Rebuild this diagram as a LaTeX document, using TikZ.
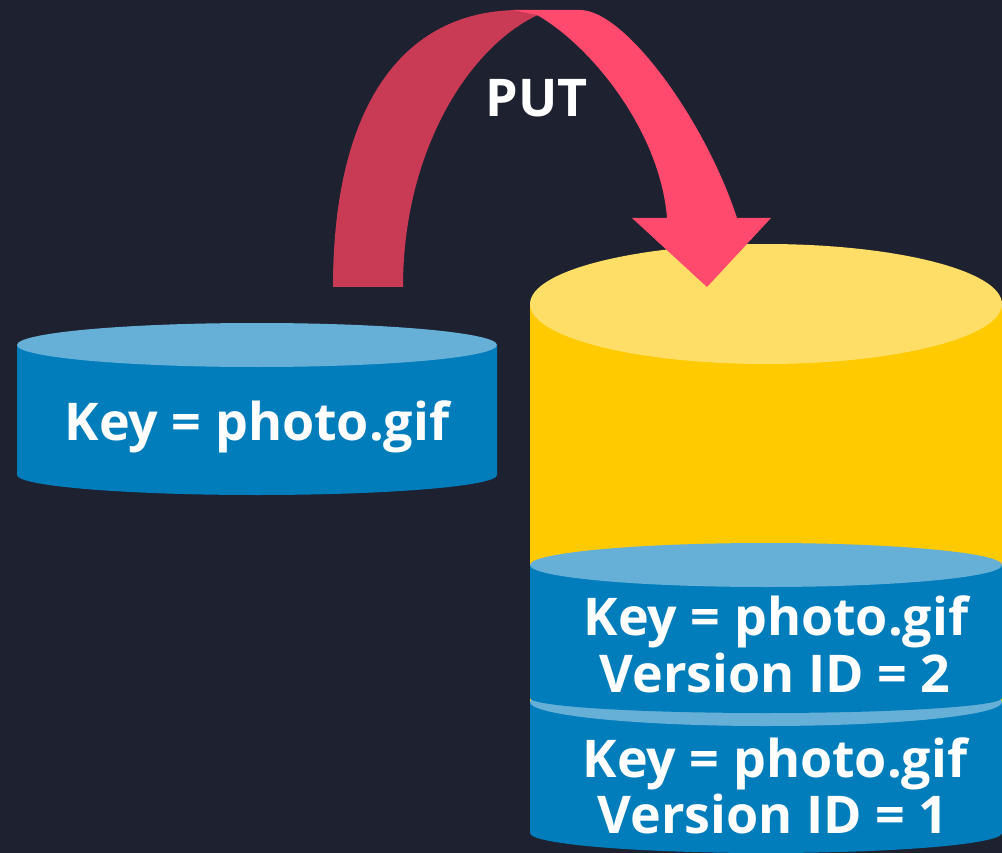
\documentclass[tikz,border=0pt]{standalone}
\usepackage{fontspec}
\setmainfont{Open Sans}
\definecolor{bg}{HTML}{1D2130}
\definecolor{bluebody}{HTML}{027DBC}
\definecolor{bluetop}{HTML}{66B0D8}
\definecolor{yelbody}{HTML}{FFCA00}
\definecolor{yeltop}{HTML}{FEDE66}
\definecolor{arrowdark}{HTML}{C93A55}
\definecolor{arrowlight}{HTML}{FF4A6D}
\begin{document}
\begin{tikzpicture}[x=1pt,y=-1pt,
  lbl/.style={text=white,font=\fontsize{52}{60}\selectfont\bfseries,inner sep=0pt,anchor=base}]
\fill[bg] (0,0) rectangle (1002,853);
\useasboundingbox (0,0) rectangle (1002,853);
\clip (0,0) rectangle (1002,853);

% left cylinder
\fill[bluebody] (17,345) -- (17,475) arc[start angle=180,end angle=360,x radius=240pt,y radius=20pt] -- (497,345) -- cycle;
\fill[bluetop] (257,345) ellipse[x radius=240pt,y radius=22pt];
\node[lbl] (src) at (257,440) {Key = photo.gif};

% yellow bucket cylinder
\fill[yelbody] (530,304) rectangle (1002,720);
\fill[yeltop] (766,304) ellipse[x radius=236pt,y radius=60pt];

% version 1 disk
\fill[bluebody] (530,702) -- (530,833) arc[start angle=180,end angle=360,x radius=236pt,y radius=20pt] -- (1002,702) -- cycle;
\fill[bluetop] (766,702) ellipse[x radius=236pt,y radius=24pt];
% version 2 disk
\fill[bluebody] (530,565) -- (530,698) arc[start angle=180,end angle=360,x radius=236pt,y radius=15pt] -- (1002,565) -- cycle;
\fill[bluetop] (766,565) ellipse[x radius=236pt,y radius=22pt];

\node[lbl] (v2key) at (776,635) {Key = photo.gif};
\node[lbl] (v2id) at (775,692) {Version ID = 2};
\node[lbl] (v1key) at (775,777) {Key = photo.gif};
\node[lbl] (v1id) at (773,833) {Version ID = 1};

% PUT arrow
\fill[arrowdark] (333,287) .. controls (333,110) and (400,10) .. (520,10) -- (540,14)
  .. controls (470,45) and (403,150) .. (403,287) -- cycle;
\fill[arrowlight] (513,10) -- (580,10) .. controls (625,10) and (705,120) .. (737,218)
  -- (771,218) -- (707,287) -- (632,218) -- (667,218)
  .. controls (660,130) and (590,45) .. (537,15) -- cycle;
\node[lbl] (put) at (537,117) {PUT};
\end{tikzpicture}
\end{document}
